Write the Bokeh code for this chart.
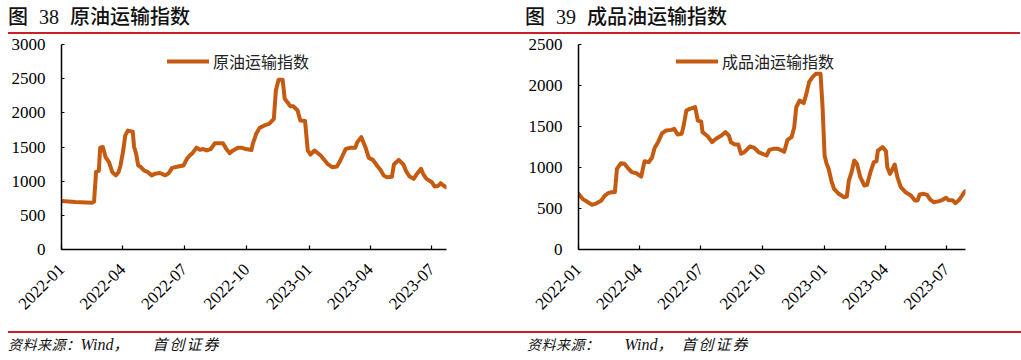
import pandas as pd
from bokeh.plotting import figure
from bokeh.models import (FixedTicker, DatetimeTickFormatter, Legend, LegendItem,
                          Div, Range1d, ColumnDataSource)
from bokeh.layouts import column, row
from bokeh.embed import file_html
from bokeh.resources import INLINE
import math

# ---------------- data ----------------
crude_dates = [
    "2022-01-01", "2022-01-21", "2022-02-15", "2022-02-18", "2022-02-21", "2022-02-25",
    "2022-02-27", "2022-03-03", "2022-03-07", "2022-03-12", "2022-03-17", "2022-03-22",
    "2022-03-26", "2022-03-29", "2022-04-02", "2022-04-05", "2022-04-09", "2022-04-16",
    "2022-04-18", "2022-04-21", "2022-04-24", "2022-04-27", "2022-05-03", "2022-05-08",
    "2022-05-14", "2022-05-19", "2022-05-26", "2022-06-03", "2022-06-08", "2022-06-13",
    "2022-06-22", "2022-06-30", "2022-07-05", "2022-07-09", "2022-07-13", "2022-07-19",
    "2022-07-24", "2022-07-29", "2022-08-03", "2022-08-09", "2022-08-15", "2022-08-27",
    "2022-09-01", "2022-09-06", "2022-09-11", "2022-09-18", "2022-09-23", "2022-09-30",
    "2022-10-08", "2022-10-10", "2022-10-15", "2022-10-20", "2022-10-27", "2022-11-03",
    "2022-11-10", "2022-11-13", "2022-11-17", "2022-11-23", "2022-11-26", "2022-11-30",
    "2022-12-04", "2022-12-09", "2022-12-15", "2022-12-19", "2022-12-26", "2022-12-30",
    "2023-01-03", "2023-01-09", "2023-01-18", "2023-01-28", "2023-02-04", "2023-02-11",
    "2023-02-16", "2023-02-24", "2023-03-03", "2023-03-10", "2023-03-13", "2023-03-19",
    "2023-03-25", "2023-03-30", "2023-04-05", "2023-04-11", "2023-04-16", "2023-04-21",
    "2023-04-26", "2023-05-03", "2023-05-06", "2023-05-13", "2023-05-20", "2023-05-24",
    "2023-05-29", "2023-06-04", "2023-06-09", "2023-06-15", "2023-06-18", "2023-06-23",
    "2023-07-01", "2023-07-05", "2023-07-10", "2023-07-14", "2023-07-18", "2023-07-22",
]
crude_values = [
    710, 695, 685, 700, 1140, 1150,
    1490, 1500, 1350, 1280, 1130, 1085,
    1130, 1230, 1450, 1670, 1740, 1725,
    1500, 1400, 1230, 1215, 1155, 1135,
    1085, 1110, 1120, 1085, 1115, 1195,
    1215, 1230, 1330, 1375, 1410, 1490,
    1460, 1470, 1450, 1470, 1555, 1555,
    1470, 1410, 1450, 1490, 1490, 1470,
    1455, 1546, 1693, 1780, 1815, 1839,
    1912, 2327, 2483, 2483, 2205, 2156,
    2098, 2095, 2034, 1888, 1880, 1449,
    1390, 1449, 1376, 1254, 1205, 1215,
    1302, 1473, 1488, 1488, 1571, 1644,
    1497, 1341, 1312, 1229, 1166, 1083,
    1058, 1065, 1244, 1312, 1244, 1146,
    1068, 1034, 1107, 1180, 1107, 1034,
    985, 922, 930, 970, 936, 912,
]

product_dates = [
    "2022-01-01", "2022-01-07", "2022-01-15", "2022-01-21", "2022-01-27", "2022-02-04",
    "2022-02-09", "2022-02-14", "2022-02-19", "2022-02-24", "2022-02-27", "2022-03-05",
    "2022-03-10", "2022-03-15", "2022-03-21", "2022-03-28", "2022-04-04", "2022-04-09",
    "2022-04-15", "2022-04-20", "2022-04-24", "2022-04-29", "2022-05-05", "2022-05-11",
    "2022-05-19", "2022-05-23", "2022-05-28", "2022-06-03", "2022-06-06", "2022-06-10",
    "2022-06-15", "2022-06-23", "2022-06-27", "2022-07-02", "2022-07-04", "2022-07-12",
    "2022-07-18", "2022-07-24", "2022-08-01", "2022-08-07", "2022-08-12", "2022-08-15",
    "2022-08-21", "2022-08-26", "2022-08-30", "2022-09-04", "2022-09-12", "2022-09-19",
    "2022-09-25", "2022-10-01", "2022-10-07", "2022-10-11", "2022-10-18", "2022-10-23",
    "2022-10-30", "2022-11-02", "2022-11-07", "2022-11-13", "2022-11-17", "2022-11-20",
    "2022-11-25", "2022-12-01", "2022-12-05", "2022-12-09", "2022-12-14", "2022-12-19",
    "2022-12-26", "2022-12-29", "2023-01-01", "2023-01-04", "2023-01-07", "2023-01-11",
    "2023-01-15", "2023-01-22", "2023-01-30", "2023-02-03", "2023-02-06", "2023-02-10",
    "2023-02-14", "2023-02-18", "2023-02-23", "2023-03-01", "2023-03-05", "2023-03-10",
    "2023-03-15", "2023-03-19", "2023-03-21", "2023-03-28", "2023-04-02", "2023-04-04",
    "2023-04-08", "2023-04-12", "2023-04-15", "2023-04-19", "2023-04-24", "2023-05-01",
    "2023-05-09", "2023-05-15", "2023-05-19", "2023-05-22", "2023-05-28", "2023-06-02",
    "2023-06-07", "2023-06-12", "2023-06-20", "2023-06-25", "2023-06-30", "2023-07-04",
    "2023-07-10", "2023-07-14", "2023-07-19", "2023-07-24", "2023-07-27", "2023-07-29",
]
product_values = [
    679, 618, 577, 545, 560, 598,
    658, 687, 699, 699, 984, 1053,
    1045, 996, 943, 930, 890, 1077,
    1065, 1118, 1240, 1309, 1419, 1451,
    1459, 1472, 1402, 1410, 1512, 1695,
    1715, 1736, 1573, 1560, 1431, 1378,
    1309, 1350, 1390, 1431, 1390, 1309,
    1280, 1280, 1167, 1187, 1256, 1240,
    1187, 1167, 1146, 1215, 1230, 1230,
    1207, 1190, 1337, 1370, 1492, 1736,
    1817, 1785, 1898, 2041, 2102, 2142,
    2142, 1736, 1146, 1045, 984, 841,
    740, 679, 638, 645, 841, 943,
    1085, 1045, 882, 780, 790, 943,
    1065, 1075, 1207, 1248, 1200, 1004,
    923, 984, 1037, 882, 760, 699,
    658, 598, 598, 671, 679, 665,
    606, 577, 590, 606, 630, 600,
    600, 565, 600, 658, 699, 711,
]

x_tick_labels = ["2022-01", "2022-04", "2022-07", "2022-10", "2023-01", "2023-04", "2023-07"]
crude_y_ticks = [0, 500, 1000, 1500, 2000, 2500, 3000]
product_y_ticks = [0, 500, 1000, 1500, 2000, 2500]

# ---------------- style ----------------
LINE = "#C55A11"
RED = "#cc1f25"
SERIF = "Liberation Serif"
CJK = "Noto Sans CJK SC"
FIG_H = 297


def make_fig(dates, values, y_ticks, x_start, x_end, width, left, right, label, leg_xy):
    src = ColumnDataSource(dict(x=pd.to_datetime(dates), y=values))
    p = figure(width=width, height=FIG_H, x_axis_type="datetime",
               output_backend="svg", toolbar_location=None,
               x_range=Range1d(pd.Timestamp(x_start), pd.Timestamp(x_end)),
               y_range=Range1d(y_ticks[0], y_ticks[-1]),
               min_border_left=left, min_border_right=right,
               min_border_top=10, min_border_bottom=82)
    p.outline_line_color = None
    p.background_fill_color = "white"
    p.border_fill_color = "white"
    p.xgrid.visible = False
    p.ygrid.visible = False

    r = p.line("x", "y", source=src, line_color=LINE, line_width=4,
               line_join="round", line_cap="round")

    tick_ms = [pd.Timestamp(t + "-01").value / 1e6 for t in x_tick_labels]
    xa = p.xaxis[0]
    xa.ticker = FixedTicker(ticks=tick_ms)
    fmt = "%Y-%m"
    xa.formatter = DatetimeTickFormatter(milliseconds=fmt, seconds=fmt, minsec=fmt, minutes=fmt,
                                         hourmin=fmt, hours=fmt, days=fmt, months=fmt, years=fmt)
    xa.major_label_orientation = math.pi / 4
    xa.major_label_text_font = SERIF
    xa.major_label_text_font_size = "17px"
    xa.major_label_text_color = "black"
    xa.major_label_standoff = 17
    xa.major_tick_in = 4
    xa.major_tick_out = 0
    xa.minor_tick_in = 0
    xa.minor_tick_out = 0
    xa.axis_line_width = 1.5
    xa.axis_line_color = "black"
    xa.major_tick_line_color = "black"
    xa.major_tick_line_width = 1.2

    ya = p.yaxis[0]
    ya.ticker = FixedTicker(ticks=y_ticks)
    ya.major_label_text_font = SERIF
    ya.major_label_text_font_size = "17px"
    ya.major_label_text_color = "black"
    ya.major_label_standoff = 16
    ya.major_tick_in = 3
    ya.major_tick_out = 0
    ya.minor_tick_in = 0
    ya.minor_tick_out = 0
    ya.axis_line_width = 1.5
    ya.axis_line_color = "black"
    ya.major_tick_line_color = "black"
    ya.major_tick_line_width = 1.2

    legend = Legend(items=[LegendItem(label=label, renderers=[r])], location=leg_xy,
                    border_line_color=None, background_fill_alpha=0, padding=0, margin=0,
                    glyph_width=42, glyph_height=20, label_standoff=4, label_height=20,
                    label_text_font=CJK, label_text_font_size="16px",
                    label_text_color="#222222")
    legend.label_text_line_height = 1.0
    p.add_layout(legend)
    return p


def title_div(num, name, width, pad):
    html = (f'<div style="width:{width}px;height:29px;border-bottom:2px solid {RED};'
            f'font-size:20px;line-height:26px;white-space:nowrap;color:#111;padding-left:{pad}px;'
            f'box-sizing:content-box;">'
            f'<span style="font-family:\'{CJK}\';font-weight:500">图</span>'
            f'<span style="font-family:\'{SERIF}\';margin-left:11px">{num}</span>'
            f'<span style="font-family:\'{CJK}\';font-weight:500;margin-left:11px">{name}</span></div>')
    return Div(text=html, width=width, height=31, margin=0)


def source_div(width, pad, gap_before, gap_after):
    html = (f'<div style="width:{width}px;height:20px;border-top:2px solid {RED};'
            f'font-size:14px;line-height:21px;white-space:nowrap;color:#111;font-style:italic;'
            f'padding-left:{pad}px;box-sizing:content-box;">'
            f'<span style="font-family:\'{CJK}\';letter-spacing:0.5px">资料来源：</span>'
            f'<span style="font-family:\'{SERIF}\';font-size:16px;margin-left:{gap_before}px">Wind</span>'
            f'<span style="font-family:\'{CJK}\';font-size:15px">，</span>'
            f'<span style="font-family:\'{CJK}\';font-size:15px;margin-left:{gap_after}px;letter-spacing:2px">首创证券</span></div>')
    return Div(text=html, width=width, height=22, margin=0)


p1 = make_fig(crude_dates, crude_values, crude_y_ticks, "2022-01-01", "2023-07-22 12:00",
              510, 51, 72, "原油运输指数", (106, 176))
p2 = make_fig(product_dates, product_values, product_y_ticks, "2022-01-01", "2023-07-29",
              495, 60, 48, "成品油运输指数", (98, 176))

layout = column(
    row(title_div("38", "原油运输指数", 510, 0), title_div("39", "成品油运输指数", 495, 7)),
    row(p1, p2),
    row(source_div(510, 0, 0, 24), source_div(495, 9, 25, 9)),
    margin=(3, 0, 0, 8),
)

open("out.html", "w").write(file_html(layout, INLINE))
